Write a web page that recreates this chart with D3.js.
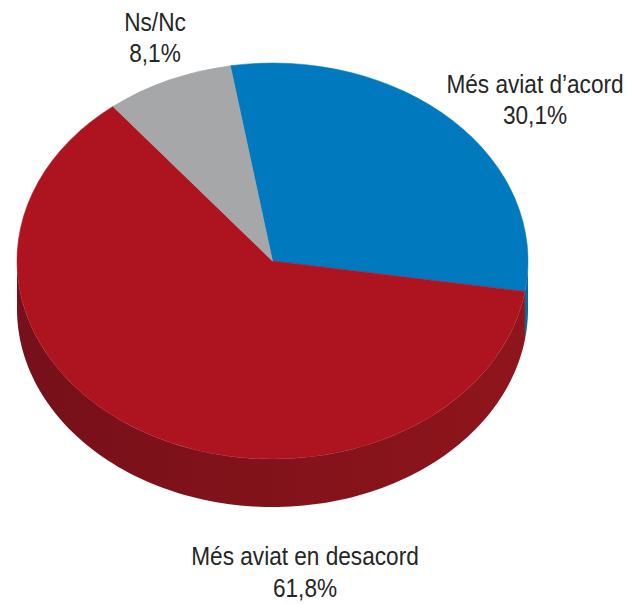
<!DOCTYPE html>
<html>
<head>
<meta charset="utf-8">
<script src="https://cdn.jsdelivr.net/npm/d3@7/dist/d3.min.js"></script>
<style>
  html, body { margin: 0; padding: 0; background: #fff; }
  svg text { font-family: "Liberation Sans", Arial, sans-serif; fill: #262626; }
</style>
</head>
<body>
<svg id="chart" width="626" height="604"></svg>
<script>
// Survey answers and their shares (%)
const categories = ["Més aviat d’acord", "Més aviat en desacord", "Ns/Nc"];
const values = [30.1, 61.8, 8.1];
const valueLabels = ["30,1%", "61,8%", "8,1%"];
const topColors = ["#0079bf", "#ae1420", "#a6a7a9"];
const sideColors = [["#005d93", "#006aa6"], ["#76101a", "#8f151b"], ["#7f8082", "#8f9092"]];

const cx = 272.5, cy = 261;        // centre of the top face
const rx = 255.5, ry = 198;        // ellipse radii of the top face
const depth = 48;                  // thickness of the disc
const rotation = -9.5 * Math.PI / 180;

const svg = d3.select("#chart");
const defs = svg.append("defs");

const pie = d3.pie().sort(null).value(d => d.value)
  .startAngle(rotation).endAngle(rotation + 2 * Math.PI);
const data = categories.map((c, i) => ({ name: c, value: values[i], label: valueLabels[i], i }));
const arcs = pie(data);

// point on the ellipse for an angle measured clockwise from 12 o'clock
const px = a => cx + rx * Math.sin(a);
const py = (a, dz = 0) => cy - ry * Math.cos(a) + dz;

// side wall gradients, darker towards the left
sideColors.forEach((c, i) => {
  const g = defs.append("linearGradient").attr("id", "side" + i)
    .attr("gradientUnits", "userSpaceOnUse")
    .attr("x1", cx - rx).attr("x2", cx + rx).attr("y1", 0).attr("y2", 0);
  g.append("stop").attr("offset", "0%").attr("stop-color", c[0]);
  g.append("stop").attr("offset", "100%").attr("stop-color", c[1]);
});

const line = d3.line();

// front walls: only the part of each slice between 90° and 270° faces the viewer
const front0 = Math.PI / 2, front1 = 3 * Math.PI / 2;
arcs.forEach(a => {
  const s = a.startAngle, e = a.endAngle;
  const segs = [[s, e]];
  if (s < 0) segs.push([s + 2 * Math.PI, e + 2 * Math.PI]);
  segs.forEach(([s0, e0]) => {
    const a0 = Math.max(s0, front0), a1 = Math.min(e0, front1);
    if (a1 <= a0) return;
    const steps = d3.range(0, 121).map(k => a0 + (a1 - a0) * k / 120);
    const pts = steps.map(t => [px(t), py(t)])
      .concat(steps.slice().reverse().map(t => [px(t), py(t, depth)]));
    svg.append("path").attr("d", line(pts) + "Z")
      .attr("fill", `url(#side${a.data.i})`);
  });
});

// top faces
const arc = d3.arc().innerRadius(0).outerRadius(rx);
svg.append("g")
  .attr("transform", `translate(${cx},${cy}) scale(1,${ry / rx})`)
  .selectAll("path").data(arcs).join("path")
  .attr("d", arc)
  .attr("fill", d => topColors[d.data.i])
  .attr("stroke", d => topColors[d.data.i])
  .attr("stroke-width", 0.6);

// labels: name on the first line, share below (condensed type)
const labelPos = [
  { x: 535, y: 92.5 },
  { x: 305, y: 565 },
  { x: 155, y: 30.5 }
];
const fs = 26, lineGap = 32, squeeze = 0.87;
data.forEach((d, i) => {
  const p = labelPos[i];
  const g = svg.append("g")
    .attr("transform", `translate(${p.x},${p.y}) scale(${squeeze},1)`);
  g.append("text").attr("text-anchor", "middle").attr("font-size", fs).text(d.name);
  g.append("text").attr("y", lineGap).attr("text-anchor", "middle").attr("font-size", fs).text(d.label);
});
</script>
</body>
</html>
